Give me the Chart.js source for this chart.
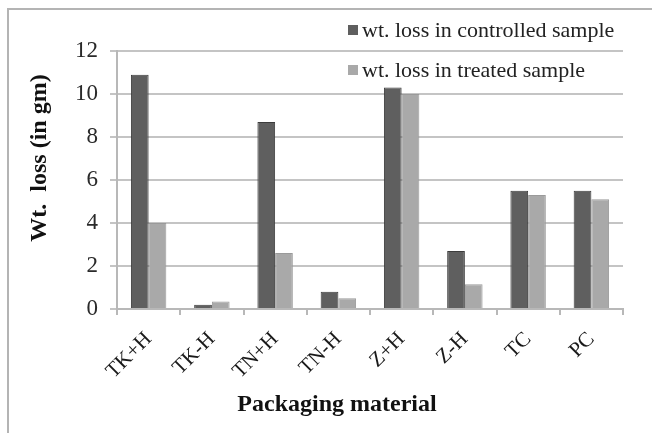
<!DOCTYPE html>
<html>
<head>
<meta charset="utf-8">
<script src="https://cdn.jsdelivr.net/npm/chart.js@4/dist/chart.umd.min.js"></script>
<style>
  html, body { margin: 0; padding: 0; background: #fff; }
  #wrap { position: relative; width: 652px; height: 433px; overflow: hidden; }
  #frame { position: absolute; left: 7px; top: 8px; width: 700px; height: 500px;
           border-top: 2px solid #b4b4b4; border-left: 2px solid #b4b4b4; pointer-events: none; }
  canvas { position: absolute; left: 0; top: 0; }
</style>
</head>
<body>
<div id="wrap">
  <canvas id="c" width="652" height="433"></canvas>
  <div id="frame"></div>
</div>
<script>
const categories = ["TK+H", "TK-H", "TN+H", "TN-H", "Z+H", "Z-H", "TC", "PC"];
const controlledLoss = [10.9, 0.2, 8.7, 0.8, 10.3, 2.7, 5.5, 5.5];
const treatedLoss = [4.0, 0.35, 2.6, 0.5, 10.0, 1.15, 5.3, 5.1];
const seriesNames = ["wt. loss in controlled sample", "wt. loss in treated sample"];
const yTicks = [0, 2, 4, 6, 8, 10, 12];
const xTitle = "Packaging material";
const yTitle = "Wt.  loss (in gm)";

const SERIF = "'Liberation Serif', 'Times New Roman', serif";

const extras = {
  id: 'extras',
  afterDraw(chart) {
    const ctx = chart.ctx;
    ctx.save();
    // legend inside the plot, upper right
    ctx.font = "22px " + SERIF;
    ctx.textBaseline = 'middle';
    ctx.textAlign = 'left';
    const rows = [30, 70];
    chart.data.datasets.forEach((ds, i) => {
      const y = rows[i];
      ctx.fillStyle = ds.backgroundColor;
      ctx.fillRect(348, y - 5, 10, 10);
      ctx.fillStyle = '#222';
      ctx.fillText(ds.label, 362, y + 1);
    });
    // axis titles
    ctx.fillStyle = '#111';
    ctx.font = "bold 24px " + SERIF;
    ctx.textAlign = 'center';
    ctx.fillText(xTitle, 337, 405);
    ctx.translate(40, 158);
    ctx.rotate(-Math.PI / 2);
    ctx.fillText(yTitle, 0, 0);
    ctx.restore();
  }
};

new Chart(document.getElementById('c'), {
  type: 'bar',
  data: {
    labels: categories,
    datasets: [
      { label: seriesNames[0], data: controlledLoss, backgroundColor: '#5f5f5f',
        borderColor: '#3c3c3c', borderWidth: 1, barPercentage: 1.0, categoryPercentage: 0.56 },
      { label: seriesNames[1], data: treatedLoss, backgroundColor: '#a9a9a9',
        borderColor: '#9a9a9a', borderWidth: 1, barPercentage: 1.0, categoryPercentage: 0.56 }
    ]
  },
  options: {
    responsive: false,
    animation: false,
    devicePixelRatio: 1,
    layout: { padding: { left: 0, right: 29, top: 51, bottom: 0 } },
    plugins: {
      legend: { display: false },
      tooltip: { enabled: false }
    },
    scales: {
      x: {
        offset: true,
        grid: { display: true, drawOnChartArea: false, drawTicks: true, tickLength: 6,
                color: '#b8b8b8', lineWidth: 2, offset: true },
        border: { display: true, color: '#b8b8b8', width: 2 },
        ticks: { color: '#1a1a1a', font: { family: SERIF, size: 21 },
                 maxRotation: 45, minRotation: 45, padding: 12 },
        afterFit(scale) { scale.height = 433 - 309; }
      },
      y: {
        min: 0, max: 12,
        afterBuildTicks(scale) { scale.ticks = yTicks.map(v => ({ value: v })); },
        grid: { color: '#c4c4c4', lineWidth: 2, drawTicks: true, tickLength: 7 },
        border: { display: true, color: '#b8b8b8', width: 2 },
        ticks: { color: '#2a2a2a', font: { family: SERIF, size: 23 }, padding: 12 },
        afterFit(scale) { scale.width = 117; }
      }
    }
  },
  plugins: [extras]
});
</script>
</body>
</html>
